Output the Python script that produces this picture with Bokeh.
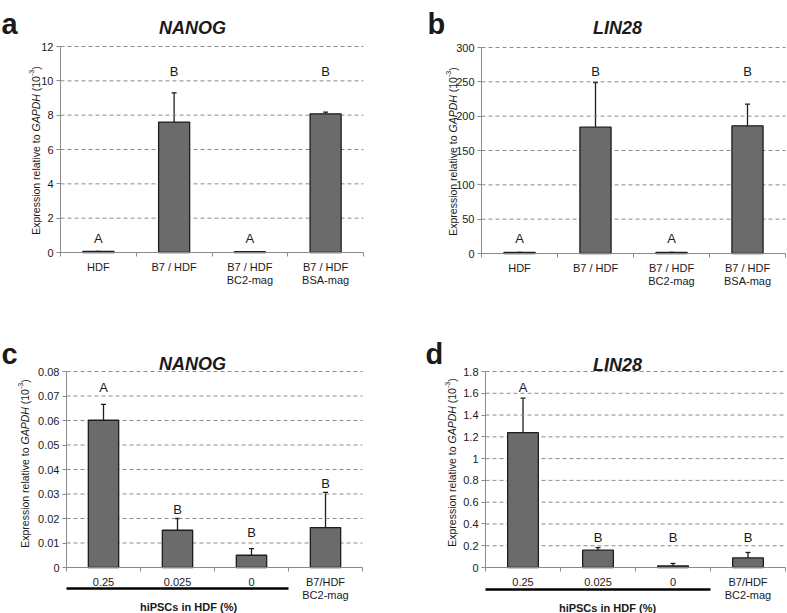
import math
from bokeh.plotting import figure
from bokeh.models import (ColumnDataSource, Range1d, LinearAxis, FixedTicker,
                          Whisker, TeeHead, Label, BoxAnnotation)
from bokeh.layouts import column, row
from bokeh.core.properties import value
from bokeh.embed import file_html
from bokeh.resources import INLINE

FONT = "Liberation Sans"

# ---------------- data ----------------
cats_top = ["HDF", "B7 / HDF", "B7 / HDF\nBC2-mag", "B7 / HDF\nBSA-mag"]
cats_bottom = ["0.25", "0.025", "0", "B7/HDF\nBC2-mag"]

nanog_a = [0.06, 7.6, 0.05, 8.08]
nanog_a_err = [0.0, 1.7, 0.0, 0.1]
letters_a = ["A", "B", "A", "B"]
letters_a_y = [0.82, 10.53, 0.82, 10.53]
yticks_a = [0, 2, 4, 6, 8, 10, 12]
ylabels_a = ["0", "2", "4", "6", "8", "10", "12"]

lin28_b = [1.5, 184.0, 1.5, 186.0]
lin28_b_err = [0.0, 65.0, 0.0, 31.5]
letters_b = ["A", "B", "A", "B"]
letters_b_y = [21.8, 264.6, 21.8, 264.6]
yticks_b = [0, 50, 100, 150, 200, 250, 300]
ylabels_b = ["0", "50", "100", "150", "200", "250", "300"]

nanog_c = [0.0601, 0.0152, 0.0050, 0.0163]
nanog_c_err = [0.0065, 0.0048, 0.0027, 0.0144]
letters_c = ["A", "B", "B", "B"]
letters_c_y = [0.0735, 0.0238, 0.0142, 0.0344]
yticks_c = [0, 0.01, 0.02, 0.03, 0.04, 0.05, 0.06, 0.07, 0.08]
ylabels_c = ["0", "0.01", "0.02", "0.03", "0.04", "0.05", "0.06", "0.07", "0.08"]

lin28_d = [1.238, 0.159, 0.015, 0.088]
lin28_d_err = [0.317, 0.024, 0.022, 0.050]
letters_d = ["A", "B", "B", "B"]
letters_d_y = [1.656, 0.28, 0.28, 0.28]
yticks_d = [0, 0.2, 0.4, 0.6, 0.8, 1.0, 1.2, 1.4, 1.6, 1.8]
ylabels_d = ["0", "0.2", "0.4", "0.6", "0.8", "1", "1.2", "1.4", "1.6", "1.8"]

group_label = "hiPSCs in HDF (%)"

# Arial / Liberation Sans advance widths (per 1000 em)
AW = {' ': 278, '(': 333, ')': 333, '-': 333, '0': 556, '1': 556, '3': 556,
      'E': 667, 'x': 500, 'p': 556, 'r': 333, 'e': 556, 's': 500, 'i': 222,
      'o': 556, 'n': 556, 'l': 222, 'a': 556, 't': 278, 'v': 500,
      'G': 778, 'A': 667, 'P': 667, 'D': 722, 'H': 722}


def tw(s, size):
    return sum(AW.get(c, 556) for c in s) * size / 1000.0


BAR_FILL = "#6b6b6b"
BAR_LINE = "#1e1e1e"
AXIS_COL = "#8a8a8a"
TEXT_COL = "#1a1a1a"


def make_panel(cats, vals, errs, letters, letter_y, yticks, ylabels, ymax,
               title, tag, origin, size, frame, tag_pos, title_pos, ylab_pos,
               group=None):
    ox, oy = origin
    W, H = size
    L, T, R, B = frame
    n = len(cats)
    centres = [i + 0.5 for i in range(n)]   # category slots on the x scale
    # the plotting frame spans the whole figure; the data box sits at L..R, T..B
    sx = (R - L) / n
    sy = (B - T) / ymax
    xr = Range1d(-(L - ox) / sx, n + (ox + W - R) / sx)
    yr = Range1d(-(oy + H - B) / sy, ymax + (T - oy) / sy)
    p = figure(width=W, height=H, x_range=xr, y_range=yr,
               x_axis_type=None, y_axis_type=None,
               output_backend="svg", toolbar_location=None, min_border=0)
    p.outline_line_color = None
    p.background_fill_color = "white"
    p.border_fill_color = "white"

    # dashed horizontal grid lines at the y ticks
    gy = [t for t in yticks if t > 0]
    p.segment(x0=[0] * len(gy), x1=[n] * len(gy), y0=gy, y1=gy,
              line_color="#8c8c8c", line_dash="4 3", line_width=1)

    # y axis
    ya = LinearAxis(ticker=FixedTicker(ticks=yticks), fixed_location=0,
                    bounds=(0, ymax))
    ya.major_label_overrides = dict(zip(yticks, ylabels))
    ya.axis_line_color = AXIS_COL
    ya.major_tick_line_color = AXIS_COL
    ya.minor_tick_line_color = None
    ya.major_tick_out = 4
    ya.major_tick_in = 0
    ya.major_label_standoff = 3
    ya.major_label_text_font = FONT
    ya.major_label_text_font_size = "11px"
    ya.major_label_text_color = TEXT_COL
    p.add_layout(ya, "left")

    # x axis: labels at category centres, ticks at category boundaries
    xa = LinearAxis(ticker=FixedTicker(ticks=centres,
                                       minor_ticks=list(range(n + 1))),
                    fixed_location=0, bounds=(0, n))
    xa.major_label_overrides = {c: name for c, name in zip(centres, cats)}
    xa.axis_line_color = AXIS_COL
    xa.major_tick_line_color = None
    xa.minor_tick_line_color = AXIS_COL
    xa.minor_tick_out = 4
    xa.minor_tick_in = 0
    xa.major_label_standoff = 2
    xa.major_label_text_font = FONT
    xa.major_label_text_font_size = "11px"
    xa.major_label_text_color = TEXT_COL
    xa.major_label_text_line_height = 1.15
    p.add_layout(xa, "below")

    src = ColumnDataSource(dict(x=centres, top=vals,
                                upper=[v + e for v, e in zip(vals, errs)],
                                letter=letters, ly=letter_y))
    p.vbar(x="x", top="top", width=0.41, source=src, fill_color=BAR_FILL,
           line_color=BAR_LINE, line_width=1.3)
    p.add_layout(Whisker(source=src, base="x", upper="upper", lower="top",
                         dimension="height", line_color=BAR_LINE, line_width=1.3,
                         upper_head=TeeHead(size=5, line_color=BAR_LINE, line_width=1.3),
                         lower_head=None))
    p.text(x="x", y="ly", text="letter", source=src, text_align="center",
           text_baseline="middle", text_font=value(FONT), text_font_size="13px",
           text_color=TEXT_COL)

    def lab(x, y, text, fsize, style="normal", align="left",
            baseline="alphabetic", angle=0.0):
        p.add_layout(Label(x=x - ox, y=y - oy, x_units="canvas", y_units="canvas",
                           text=text, text_font=FONT, text_font_size=f"{fsize:.2f}px",
                           text_font_style=style, text_align=align,
                           text_baseline=baseline, angle=angle,
                           text_color=TEXT_COL))

    # panel tag and title
    lab(tag_pos[0], tag_pos[1], tag, 29, "bold")
    lab(title_pos[0], title_pos[1], title, 18, "bold italic", align="center")

    # rotated y label with italic gene name and superscript
    fs = 10.5
    sup = fs * 0.68
    pieces = [("Expression relative to", "normal", fs, 0.0, tw(" ", fs)),
              ("GAPDH", "italic", fs, 0.0, tw(" ", fs)),
              ("(10", "normal", fs, 0.0, 0.0),
              ("-3", "normal", sup, fs * 0.38, 0.0),
              (")", "normal", fs, 0.0, 0.0)]
    total = sum(tw(t, s) + g for t, _, s, _, g in pieces)
    bx, cy = ylab_pos
    pos = cy + total / 2.0  # image y of text start (bottom)
    for t, st, s, rise, gap in pieces:
        lab(bx - rise, pos, t, s, st, angle=math.pi / 2)
        pos -= tw(t, s) + gap

    if group is not None:
        line_y, text_x, text_base = group
        fw = R - L
        p.add_layout(BoxAnnotation(left=L - ox, right=L - ox + 0.75 * fw,
                                   top=line_y - oy - 1.3, bottom=line_y - oy + 1.3,
                                   left_units="canvas", right_units="canvas",
                                   top_units="canvas", bottom_units="canvas",
                                   fill_color="black", fill_alpha=1.0,
                                   line_color=None))
        lab(text_x, text_base, group_label, 11, "bold", align="center")
    return p


pa = make_panel(cats_top, nanog_a, nanog_a_err, letters_a, letters_a_y,
                yticks_a, ylabels_a, 12, "NANOG", "a",
                origin=(0, 0), size=(400, 290), frame=(60, 46, 363, 252),
                tag_pos=(1, 23), title_pos=(192, 27), ylab_pos=(35, 150))
pb = make_panel(cats_top, lin28_b, lin28_b_err, letters_b, letters_b_y,
                yticks_b, ylabels_b, 300, "LIN28", "b",
                origin=(400, 0), size=(387, 290), frame=(481, 47, 785, 253),
                tag_pos=(427, 23), title_pos=(617, 27), ylab_pos=(452, 151))
pc = make_panel(cats_bottom, nanog_c, nanog_c_err, letters_c, letters_c_y,
                yticks_c, ylabels_c, 0.08, "NANOG", "c",
                origin=(0, 290), size=(400, 323), frame=(66, 371, 362, 567),
                tag_pos=(1, 353), title_pos=(192, 363), ylab_pos=(24, 463),
                group=(588, 188, 606))
pd = make_panel(cats_bottom, lin28_d, lin28_d_err, letters_d, letters_d_y,
                yticks_d, ylabels_d, 1.8, "LIN28", "d",
                origin=(400, 290), size=(387, 323), frame=(485, 371, 785, 567),
                tag_pos=(425, 353), title_pos=(617, 364), ylab_pos=(451, 462),
                group=(589, 607, 607))

layout = column(row(pa, pb), row(pc, pd))
open("out.html", "w").write(file_html(layout, INLINE))
